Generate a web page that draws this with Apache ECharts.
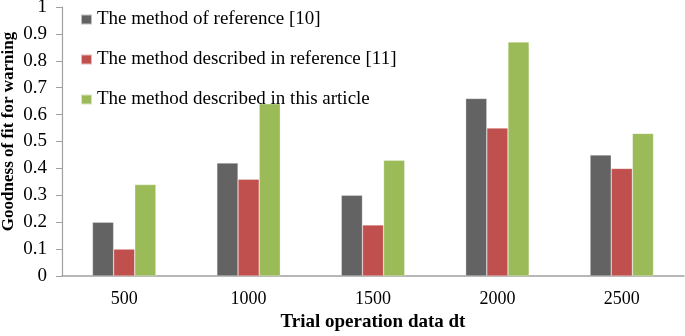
<!DOCTYPE html>
<html>
<head>
<meta charset="utf-8">
<script src="https://cdn.jsdelivr.net/npm/echarts@6/dist/echarts.min.js"></script>
<style>
html, body { margin: 0; padding: 0; background: #fff; }
#chart { width: 685px; height: 336px; }
</style>
</head>
<body>
<div id="chart"></div>
<script>
var categories = ['500', '1000', '1500', '2000', '2500'];
var seriesNames = [
    'The method of reference [10]',
    'The method described in reference [11]',
    'The method described in this article'
];
var ref10 = [0.20, 0.42, 0.30, 0.66, 0.45];
var ref11 = [0.10, 0.36, 0.19, 0.55, 0.40];
var thisArticle = [0.34, 0.64, 0.43, 0.87, 0.53];
var colors = ['#636363', '#c0504d', '#9bbb59'];

var font = '"Liberation Serif", "Times New Roman", serif';
var chart = echarts.init(document.getElementById('chart'));

function barSeries(name, data, color) {
    return {
        name: name,
        type: 'bar',
        data: data,
        barGap: '0%',
        barCategoryGap: '49%',
        itemStyle: {color: color, borderColor: 'rgba(255,255,255,0.6)', borderWidth: 0.5}
    };
}

chart.setOption({
    animation: false,
    grid: {left: 62, right: 1, top: 7, bottom: 60, containLabel: false, outerBoundsMode: 'none'},
    legend: {
        orient: 'vertical',
        left: 80,
        top: 10,
        padding: 0,
        itemWidth: 11,
        itemHeight: 10,
        itemGap: 21,
        icon: 'rect',
        textStyle: {fontFamily: font, fontSize: 19, color: '#000'},
        data: seriesNames
    },
    xAxis: {
        type: 'category',
        data: categories,
        name: 'Trial operation data dt',
        nameLocation: 'middle',
        nameGap: 37,
        nameMoveOverlap: false,
        nameTextStyle: {fontFamily: font, fontSize: 19, fontWeight: 'bold', color: '#000'},
        axisLine: {lineStyle: {color: '#a0a0a0', width: 1.5}},
        axisTick: {show: false},
        axisLabel: {fontFamily: font, fontSize: 18, color: '#000', margin: 14}
    },
    yAxis: {
        type: 'value',
        min: 0,
        max: 1,
        interval: 0.1,
        name: 'Goodness of fit for warning',
        nameLocation: 'middle',
        nameGap: 45,
        nameMoveOverlap: false,
        nameTextStyle: {fontFamily: font, fontSize: 17, fontWeight: 'bold', color: '#000', padding: [0, 0, 0, 20]},
        axisLine: {show: true, lineStyle: {color: '#a0a0a0', width: 1.2}},
        axisTick: {show: true, length: 6, lineStyle: {color: '#a0a0a0'}},
        splitLine: {show: false},
        axisLabel: {fontFamily: font, fontSize: 19, color: '#000', margin: 15}
    },
    series: [
        barSeries(seriesNames[0], ref10, colors[0]),
        barSeries(seriesNames[1], ref11, colors[1]),
        barSeries(seriesNames[2], thisArticle, colors[2])
    ]
});
</script>
</body>
</html>
